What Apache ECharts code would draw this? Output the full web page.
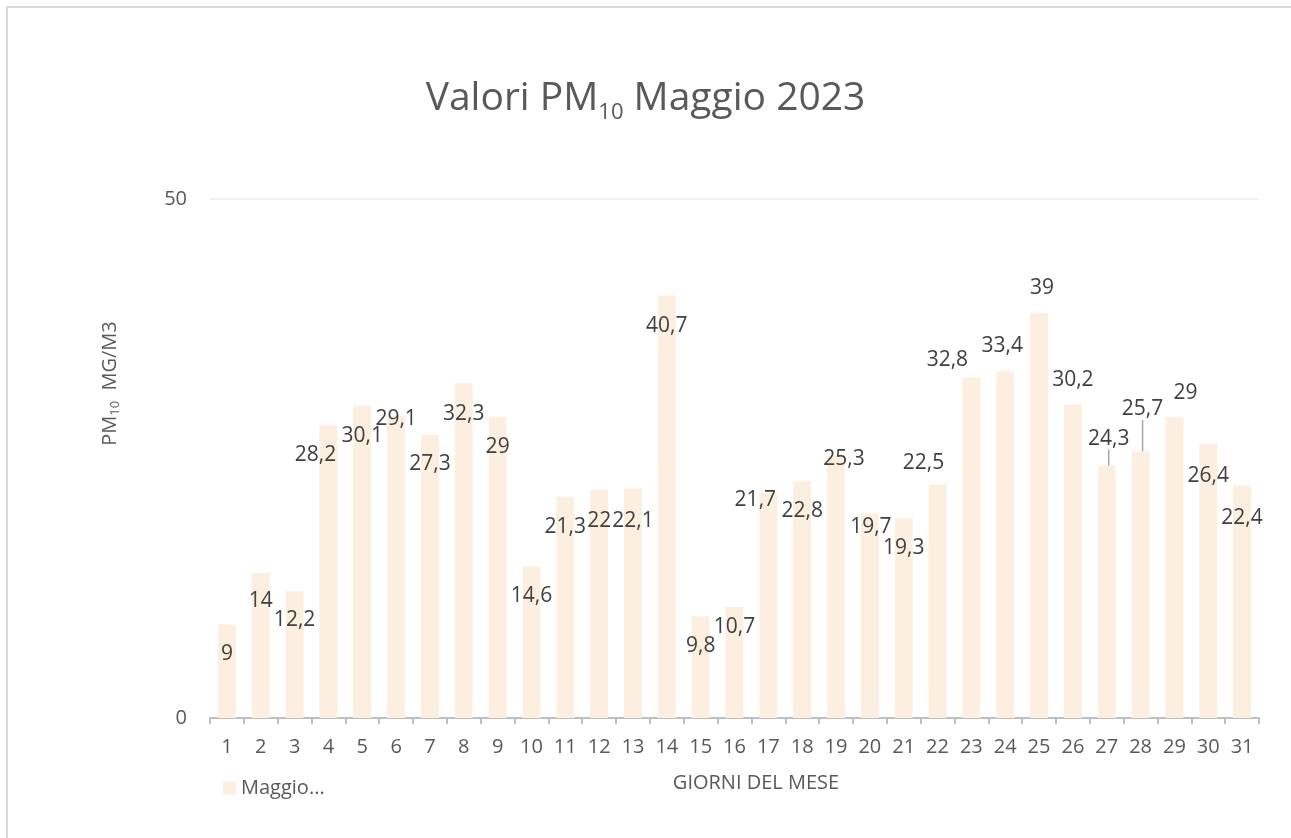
<!DOCTYPE html>
<html>
<head>
<meta charset="utf-8">
<title>Valori PM10 Maggio 2023</title>
<script src="https://cdn.jsdelivr.net/npm/echarts@6/dist/echarts.min.js"></script>
<style>
  html, body { margin: 0; padding: 0; background: #fff; }
  #chart { width: 1291px; height: 838px; }
</style>
</head>
<body>
<div id="chart"></div>
<script>
(function () {
  "use strict";

  // giorni del mese
  var days = [];
  for (var d = 1; d <= 31; d++) {
    days.push(String(d));
  }

  // PM10 in µg/m3
  var pm10 = [
    9, 14, 12.2, 28.2, 30.1, 29.1, 27.3, 32.3, 29, 14.6,
    21.3, 22, 22.1, 40.7, 9.8, 10.7, 21.7, 22.8, 25.3, 19.7,
    19.3, 22.5, 32.8, 33.4, 39, 30.2, 24.3, 25.7, 29, 26.4,
    22.4
  ];

  var yTicks = [0, 50];

  // spostamento etichette rispetto alla cima della barra [dx, dy] (px)
  var labelNudge = [
    [0, 29], [0, 28], [0, 29], [-13, 30], [0, 30], [0, 3], [0, 29], [0, 31],
    [0, 30], [0, 30], [0, 30], [0, 31], [0, 32], [0, 30], [0, 30], [0, 20],
    [-13, 7], [0, 30], [8, 4], [1, 14], [0, 30], [-14, -21], [-24, -18],
    [-3, -25], [3, -25], [0, -25], [2, -27], [2, -42], [11, -24], [0, 32],
    [0, 33]
  ];
  // etichette con linea guida
  var withLeader = [26, 27];

  var font = "'Open Sans', 'Noto Sans', sans-serif";
  var grey = "#595959";

  var chart = echarts.init(document.getElementById("chart"));

  chart.setOption({
    textStyle: { fontFamily: font },
    graphic: [{
      type: "rect",
      shape: { x: 7, y: 7, width: 1400, height: 1000 },
      style: { fill: null, stroke: "#D9D9D9", lineWidth: 2 },
      silent: true
    }],
    title: {
      left: "center",
      top: 74,
      padding: 0,
      text: "{t|Valori PM}{s|10}{t| Maggio 2023}",
      textStyle: {
        fontWeight: "normal",
        rich: {
          t: { fontSize: 39, fontWeight: "normal", lineHeight: 50, color: grey, fontFamily: font },
          s: { fontSize: 22, fontWeight: "normal", lineHeight: 38, color: grey, fontFamily: font, verticalAlign: "bottom" }
        }
      }
    },
    legend: {
      left: 223,
      top: 778,
      padding: 0,
      itemWidth: 13,
      itemHeight: 13,
      icon: "rect",
      textStyle: { fontSize: 20, color: grey, fontFamily: font },
      data: ["Maggio..."]
    },
    grid: { left: 210, right: 32, top: 199, bottom: 120, containLabel: false },
    xAxis: {
      type: "category",
      data: days,
      name: "GIORNI DEL MESE",
      nameLocation: "middle",
      nameGap: 55,
      nameTextStyle: { fontSize: 20, color: grey, padding: [0, 0, 0, 43] },
      axisLine: { lineStyle: { color: "#BFBFBF", width: 2 } },
      axisTick: { show: true, length: 6, lineStyle: { color: "#BFBFBF", width: 2 } },
      axisLabel: { fontSize: 20, color: grey, margin: 19, interval: 0 }
    },
    yAxis: {
      type: "value",
      min: yTicks[0],
      max: yTicks[yTicks.length - 1],
      interval: yTicks[1] - yTicks[0],
      name: "{a|PM}{b|10}{a|  MG/M3}",
      nameLocation: "middle",
      nameRotate: 90,
      nameGap: 88,
      nameTextStyle: {
        padding: [0, 0, 0, 150],
        rich: {
          a: { fontSize: 20, lineHeight: 24, color: grey, fontFamily: font },
          b: { fontSize: 13, lineHeight: 17, color: grey, fontFamily: font, verticalAlign: "bottom" }
        }
      },
      axisLine: { show: false },
      axisTick: { show: false },
      axisLabel: { fontSize: 20, color: grey, margin: 23 },
      splitLine: { lineStyle: { color: "#EBEBEB", width: 1.5 } }
    },
    series: [{
      name: "Maggio...",
      type: "bar",
      barWidth: "53%",
      itemStyle: { color: "#FDEFDF" },
      data: pm10.map(function (v, i) {
        return {
          value: v,
          labelLine: { show: withLeader.indexOf(i) >= 0 }
        };
      }),
      label: {
        show: true,
        position: "top",
        distance: 0,
        fontSize: 21,
        color: "#404040",
        formatter: function (p) {
          return String(p.value).replace(".", ",");
        }
      },
      labelLine: { lineStyle: { color: "#A6A6A6", width: 1.5 } },
      labelLayout: function (p) {
        var n = labelNudge[p.dataIndex];
        return {
          x: p.rect.x + p.rect.width / 2 + n[0],
          y: p.rect.y + n[1],
          align: "center",
          verticalAlign: "middle"
        };
      }
    }]
  });

  window.addEventListener("resize", function () {
    chart.resize();
  });
})();
</script>
</body>
</html>
